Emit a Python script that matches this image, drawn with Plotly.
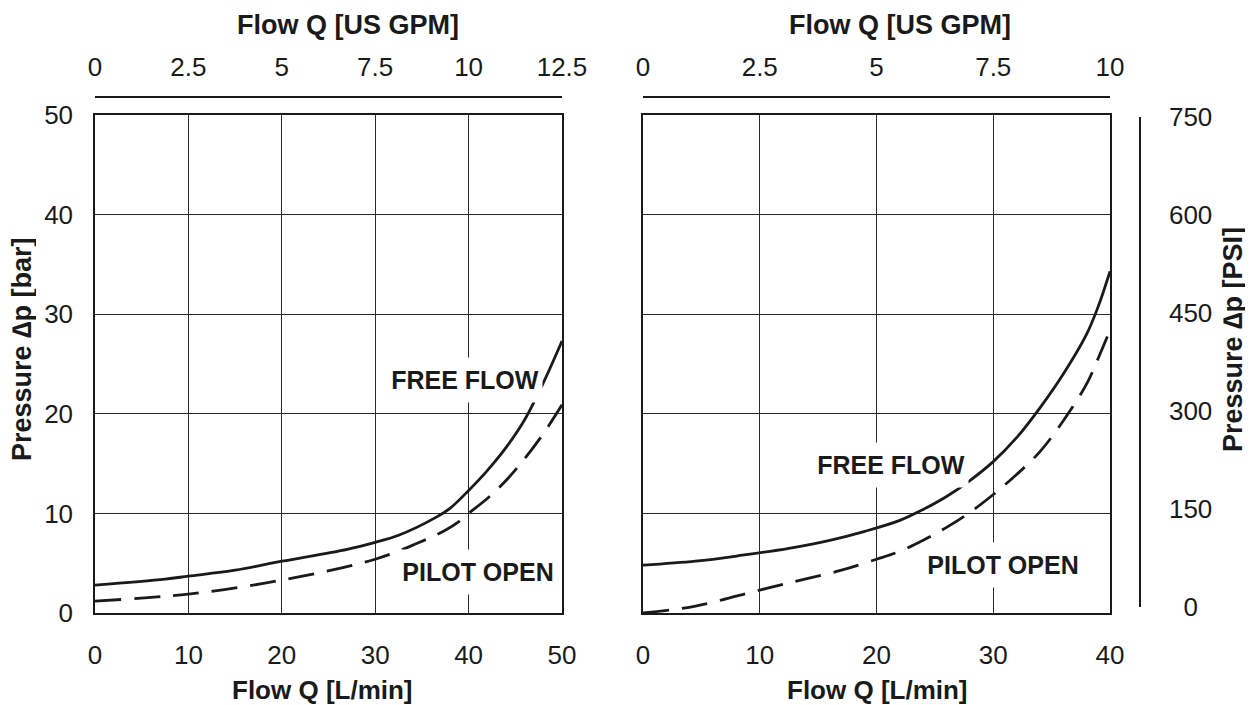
import plotly.graph_objects as go

# ---------------- data ----------------
# Left chart (0-50 L/min)
left_free_q = [0, 7.5, 10, 15, 20, 27, 30, 32.5, 36.5, 38, 40, 42, 44, 46, 48, 50]
left_free_p = [2.8, 3.4, 3.7, 4.3, 5.2, 6.4, 7.1, 7.8, 9.6, 10.5, 12.3, 14.3, 16.6, 19.4, 23.1, 27.3]
left_pilot_q = [0, 10, 20, 30, 34.5, 37.5, 39, 40, 42, 44, 46, 48, 50]
left_pilot_p = [1.2, 1.9, 3.3, 5.4, 7.0, 8.3, 9.2, 10.0, 11.5, 13.3, 15.5, 18.0, 20.9]

# Right chart (0-40 L/min)
right_free_q = [0, 4.5, 8.5, 12.5, 16, 19, 22, 24, 26, 28, 30, 32, 34, 36, 38, 39, 40]
right_free_p = [4.8, 5.2, 5.8, 6.5, 7.3, 8.2, 9.3, 10.4, 11.7, 13.3, 15.2, 17.6, 20.6, 24.0, 28.0, 30.8, 34.3]
right_pilot_q = [0, 4.5, 10, 13.5, 17, 20, 22, 24, 26, 28, 30, 32, 34, 36, 38, 39, 40]
right_pilot_p = [0, 0.7, 2.3, 3.3, 4.3, 5.4, 6.2, 7.3, 8.6, 10.1, 11.9, 13.9, 16.2, 19.3, 23.0, 25.6, 28.4]

bar_ticks = [0, 10, 20, 30, 40, 50]
lmin_ticks_left = [0, 10, 20, 30, 40, 50]
lmin_ticks_right = [0, 10, 20, 30, 40]
gpm_ticks_left = [0, 2.5, 5, 7.5, 10, 12.5]
gpm_labels_left = ["0", "2.5", "5", "7.5", "10", "12.5"]
gpm_ticks_right = [0, 2.5, 5, 7.5, 10]
gpm_labels_right = ["0", "2.5", "5", "7.5", "10"]
psi_ticks = [0, 150, 300, 450, 600, 750]
psi_labels = ["\u20070", "150", "300", "450", "600", "750"]

# ---------------- layout geometry ----------------
# page body has an 8px margin; positions below are in screenshot pixels
OFF = 8
W, H = 1253 - OFF, 705 - OFF
PLOT_L, PLOT_R, PLOT_T, PLOT_B = 95, 1140, 97, 613   # screenshot coords of paper area
ML, MT = PLOT_L - OFF, PLOT_T - OFF
MR, MB = 1253 - PLOT_R, 705 - PLOT_B
PW = PLOT_R - PLOT_L
PH = PLOT_B - PLOT_T


def fx(p):
    return (p - PLOT_L) / PW


def fy(p):
    return (PLOT_B - p) / PH


FONT = "Liberation Sans, Arial, Helvetica, sans-serif"
INK = "#1a1a1a"
GRID = "#2a2a2a"
TICK = 26

fig = go.Figure()

line_solid = dict(color=INK, width=2.8)
line_dash = dict(color=INK, width=2.8, dash="26px,13px")

fig.add_trace(go.Scatter(x=left_free_q, y=left_free_p, mode="lines", line=line_solid,
                         line_shape="spline", xaxis="x", yaxis="y", hoverinfo="skip"))
fig.add_trace(go.Scatter(x=left_pilot_q, y=left_pilot_p, mode="lines", line=line_dash,
                         line_shape="spline", xaxis="x", yaxis="y", hoverinfo="skip"))
fig.add_trace(go.Scatter(x=right_free_q, y=right_free_p, mode="lines", line=line_solid,
                         line_shape="spline", xaxis="x2", yaxis="y2", hoverinfo="skip"))
fig.add_trace(go.Scatter(x=right_pilot_q, y=right_pilot_p, mode="lines", line=line_dash,
                         line_shape="spline", xaxis="x2", yaxis="y2", hoverinfo="skip"))
# helper (empty) traces so the secondary axes are drawn
fig.add_trace(go.Scatter(x=[], y=[], xaxis="x3", yaxis="y", hoverinfo="skip"))
fig.add_trace(go.Scatter(x=[], y=[], xaxis="x4", yaxis="y2", hoverinfo="skip"))
fig.add_trace(go.Scatter(x=[], y=[], xaxis="x2", yaxis="y3", hoverinfo="skip"))

ydom = [0, fy(115)]
box = dict(showline=True, mirror=True, linecolor=INK, linewidth=1.5,
           showgrid=True, gridcolor=GRID, gridwidth=1, zeroline=False, ticks="")
tf = dict(family=FONT, size=TICK, color=INK)

fig.update_layout(
    width=W, height=H,
    margin=dict(l=ML, r=MR, t=MT, b=MB),
    paper_bgcolor="white", plot_bgcolor="rgba(0,0,0,0)",
    showlegend=False,
    xaxis=dict(domain=[0, fx(562)], range=[0, 50], tickvals=lmin_ticks_left,
               anchor="y", ticklabelstandoff=18, tickfont=tf, **box),
    yaxis=dict(domain=ydom, range=[0, 50], tickvals=bar_ticks, anchor="x",
               ticklabelstandoff=15, tickfont=tf, **box),
    xaxis2=dict(domain=[fx(643), fx(1110)], range=[0, 40], tickvals=lmin_ticks_right,
                anchor="y2", ticklabelstandoff=18, tickfont=tf, **box),
    yaxis2=dict(domain=ydom, range=[0, 50], tickvals=bar_ticks, anchor="x2",
                showticklabels=False, **box),
    xaxis3=dict(overlaying="x", side="top", anchor="free", position=1,
                range=[0, 12.5], tickvals=gpm_ticks_left, ticktext=gpm_labels_left,
                showline=True, linecolor=INK, linewidth=1.5, showgrid=False,
                zeroline=False, ticks="", ticklabelstandoff=10, tickfont=tf),
    xaxis4=dict(overlaying="x2", side="top", anchor="free", position=1,
                range=[0, 10], tickvals=gpm_ticks_right, ticktext=gpm_labels_right,
                showline=True, linecolor=INK, linewidth=1.5, showgrid=False,
                zeroline=False, ticks="", ticklabelstandoff=10, tickfont=tf),
    yaxis3=dict(domain=[fy(607), fy(117)], range=[0, 750], tickvals=psi_ticks,
                ticktext=psi_labels,
                anchor="free", position=1, side="right",
                showline=True, linecolor=INK, linewidth=1.5, showgrid=False,
                zeroline=False, ticks="", ticklabelstandoff=23, tickfont=tf),
)

titles = [
    ("<b>Flow Q [L/min]</b>", 322, 690, 0, 26, None),
    ("<b>Flow Q [L/min]</b>", 877, 690, 0, 26, None),
    ("<b>Flow Q [US GPM]</b>", 348, 25, 0, 27, None),
    ("<b>Flow Q [US GPM]</b>", 900, 25, 0, 27, None),
    ("<b>Pressure ∆p [bar]</b>", 22, 349, -90, 27, 28),
    ("<b>Pressure ∆p [PSI]</b>", 1233, 340, -90, 27, 28),
]
for text, x, y, ang, sz, hgt in titles:
    fig.add_annotation(text=text, x=fx(x), y=fy(y), xref="paper", yref="paper",
                       xanchor="center", yanchor="middle", showarrow=False,
                       textangle=ang, height=hgt, borderpad=0,
                       font=dict(family=FONT, size=sz, color=INK))

lab_font = dict(family=FONT, size=25, color=INK)
labels = [
    ("<b>FREE FLOW</b>", 39.6, 23.4, "x", "y", 154),
    ("<b>PILOT OPEN</b>", 41.0, 4.1, "x", "y", 162),
    ("<b>FREE FLOW</b>", 21.2, 14.9, "x2", "y2", 154),
    ("<b>PILOT OPEN</b>", 30.8, 4.8, "x2", "y2", 162),
]
for text, x, y, xr, yr, w in labels:
    fig.add_annotation(text=text, x=x, y=y, xref=xr, yref=yr, showarrow=False,
                       xanchor="center", yanchor="middle", font=lab_font,
                       bgcolor="white", width=w, height=44, borderpad=0)

fig.write_html("out.html")
